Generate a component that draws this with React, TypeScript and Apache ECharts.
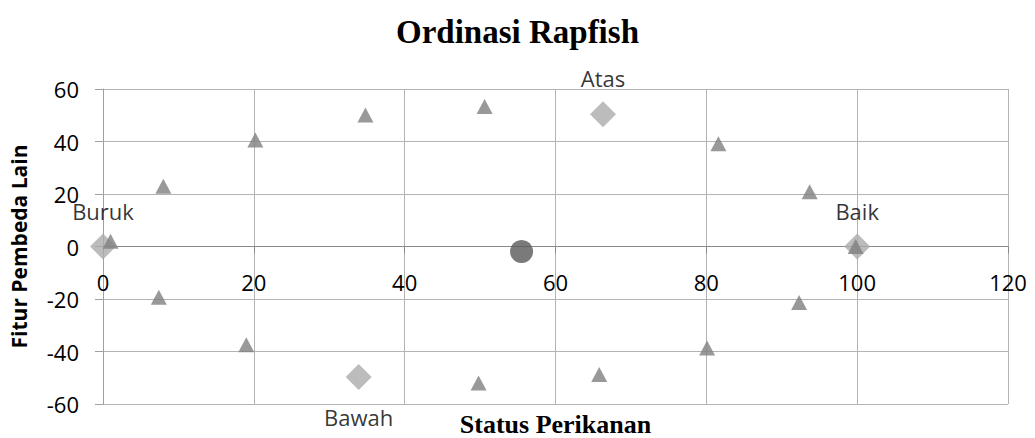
import React, { useEffect, useRef } from "react";
import * as echarts from "echarts";

const title = "Ordinasi Rapfish";
const xName = "Status Perikanan";
const yName = "Fitur Pembeda Lain";

const attrX = [1, 8, 20.2, 7.4, 19, 34.8, 50.6, 49.8, 65.8, 81.6, 93.7, 99.8, 92.3, 80.1];
const attrY = [2, 23, 40.6, -19.3, -37.4, 50.1, 53.3, -52, -48.8, 39.1, 20.9, 0, -21.3, -38.7];

const refNames = ["Buruk", "Baik", "Atas", "Bawah"];
const refX = [0, 100, 66.3, 33.9];
const refY = [0, 0, 50.4, -49.7];

const statusX = [55.5];
const statusY = [-1.9];

const xTicks = [0, 20, 40, 60, 80, 100, 120];
const yTicks = [-60, -40, -20, 0, 20, 40, 60];

const sansFont = "'Open Sans', 'DejaVu Sans', sans-serif";
const serifFont = "'Liberation Serif', 'Times New Roman', serif";

const GRID_TOP = 89;
const GRID_BOTTOM = 34;
const CHART_H = 438;

export default function App() {
  const ref = useRef<HTMLDivElement>(null);
  useEffect(() => {
    if (!ref.current) return;
    const chart = echarts.init(ref.current, null, { renderer: "svg" });
    const yMin = yTicks[0];
    const yMax = yTicks[yTicks.length - 1];
    const plotH = CHART_H - GRID_TOP - GRID_BOTTOM;
    const zeroFromBottom = (plotH * (0 - yMin)) / (yMax - yMin);
    const refData = refNames.map((n, i) => ({
      value: [refX[i], refY[i]],
      name: n,
      label: {
        show: true,
        formatter: n,
        position: n === "Bawah" ? "bottom" : "top",
        distance: n === "Bawah" ? 16 : 12,
        color: "#000",
        fontFamily: sansFont,
        fontSize: 22,
      },
    }));
    chart.setOption({
      animation: false,
      title: {
        text: title,
        left: "center",
        top: 10,
        textStyle: { fontFamily: serifFont, fontWeight: "bold", fontSize: 33, color: "#000" },
      },
      grid: { left: 103, right: 27, top: GRID_TOP, bottom: GRID_BOTTOM, containLabel: false, outerBoundsMode: "none" },
      xAxis: {
        type: "value",
        min: xTicks[0],
        max: xTicks[xTicks.length - 1],
        interval: 20,
        position: "bottom",
        offset: -zeroFromBottom,
        name: xName,
        nameLocation: "middle",
        nameGap: 165,
        nameTextStyle: { fontFamily: serifFont, fontWeight: "bold", fontSize: 26, color: "#000" },
        axisLine: { onZero: false, lineStyle: { color: "#8a8a8a", width: 1 } },
        axisTick: { show: true, length: 7, lineStyle: { color: "#8a8a8a" } },
        axisLabel: { fontFamily: sansFont, fontSize: 22, color: "#000", margin: 24 },
        splitLine: { show: true, lineStyle: { color: "#b3b3b3", width: 1 } },
      },
      yAxis: {
        type: "value",
        min: yMin,
        max: yMax,
        interval: 20,
        name: yName,
        nameLocation: "middle",
        nameGap: 74,
        nameTextStyle: { fontFamily: sansFont, fontWeight: "bold", fontSize: 21, color: "#000" },
        axisLine: { show: true, onZero: false, lineStyle: { color: "#a0a0a0", width: 1 } },
        axisTick: { show: true, length: 8, lineStyle: { color: "#a0a0a0" } },
        axisLabel: { fontFamily: sansFont, fontSize: 22, color: "#000", margin: 24 },
        splitLine: { show: true, lineStyle: { color: "#b3b3b3", width: 1 } },
      },
      series: [
        {
          type: "scatter",
          name: "Referensi",
          symbol: "diamond",
          symbolSize: [26, 26],
          itemStyle: { color: "#ababab" },
          data: refData,
          z: 2,
        },
        {
          type: "scatter",
          name: "Atribut",
          symbol: "triangle",
          symbolSize: [16, 15],
          itemStyle: { color: "#808080" },
          data: attrX.map((x, i) => [x, attrY[i]]),
          z: 3,
        },
        {
          type: "scatter",
          name: "Status",
          symbol: "circle",
          symbolSize: 23,
          itemStyle: { color: "#595959" },
          data: statusX.map((x, i) => [x, statusY[i]]),
          z: 4,
        },
      ],
    });
    return () => chart.dispose();
  }, []);
  return <div ref={ref} style={{ width: 1035, height: CHART_H, position: "absolute", left: 0, top: 0 }} />;
}
